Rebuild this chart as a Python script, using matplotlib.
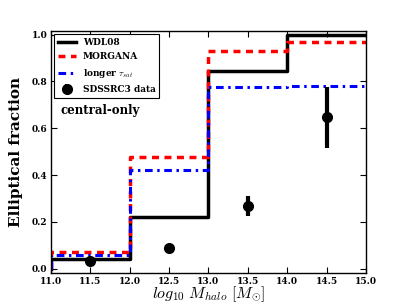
import numpy as np
import matplotlib
matplotlib.use('Agg')
from matplotlib import pyplot as plt

plt.rcParams['font.family'] = 'serif'
plt.rcParams['font.serif'] = ['DejaVu Serif']
plt.rcParams['mathtext.fontset'] = 'cm'

# halo mass bin edges
edges = [11.0, 12.0, 13.0, 14.0, 15.0]

# model elliptical fractions per bin
wdl08 = [0.04, 0.22, 0.845, 1.0]
morgana = [0.07, 0.475, 0.928, 0.97]
longer_tsat = [0.058, 0.42, 0.776, 0.779]

# SDSS data points
data_x = [11.5, 12.5, 13.5, 14.5]
data_y = [0.031, 0.089, 0.268, 0.647]
data_err = [0.01, 0.01, 0.042, 0.13]


def stepline(vals):
    x = [edges[0]] + edges
    y = [0.0] + vals + [vals[-1]]
    return x, y


fig = plt.figure(figsize=(4.07, 3.05), dpi=100)
ax = fig.add_axes([0.125, 0.104, 0.774, 0.794])

x, y = stepline(wdl08)
ax.step(x, y, where='post', color='black', lw=2.5, label='WDL08')
x, y = stepline(morgana)
ax.step(x, y, where='post', color='red', lw=2.5, ls='--', dashes=(2, 1.6), label='MORGANA')
x, y = stepline(longer_tsat)
ax.step(x, y, where='post', color='blue', lw=2.2, ls='-.', dashes=(2.5, 1.5, 0.8, 1.5), label=r'longer $\tau_{sat}$')
ax.errorbar(data_x, data_y, yerr=data_err, fmt='o', color='black', ms=7, elinewidth=3, capsize=0,
            label='SDSSRC3 data')

ax.set_xlim(11.0, 15.0)
ax.set_ylim(-0.02, 1.015)
ax.set_xticks(np.arange(11.0, 15.01, 0.5))
ax.set_yticks([0.0, 0.2, 0.4, 0.6, 0.8, 1.0])
ax.tick_params(direction='in', top=True, right=True, labelsize=6.5, width=0.8, length=4, pad=2.5)
for lbl in ax.get_xticklabels() + ax.get_yticklabels():
    lbl.set_fontweight('bold')
for sp in ax.spines.values():
    sp.set_linewidth(1.0)

# x label placed by hand so it sits inside the bottom edge
fig.text(0.512, 0.004, r'$log_{10}\ M_{halo}\ [M_{\odot}]$', fontsize=11.5, ha='center', va='bottom')
ax.set_ylabel('Elliptical fraction', fontsize=11, fontweight='bold', labelpad=6)

ax.text(11.12, 0.66, 'central-only', fontsize=8.5, fontweight='bold')

leg = ax.legend(loc='upper left', prop={'size': 6.5, 'weight': 'bold'}, numpoints=1,
                handlelength=2.0, borderaxespad=0.35, fancybox=False, framealpha=1,
                labelspacing=0.6)
leg.get_frame().set_edgecolor('black')
leg.get_frame().set_linewidth(0.8)

fig.savefig('out.png', dpi=100)
